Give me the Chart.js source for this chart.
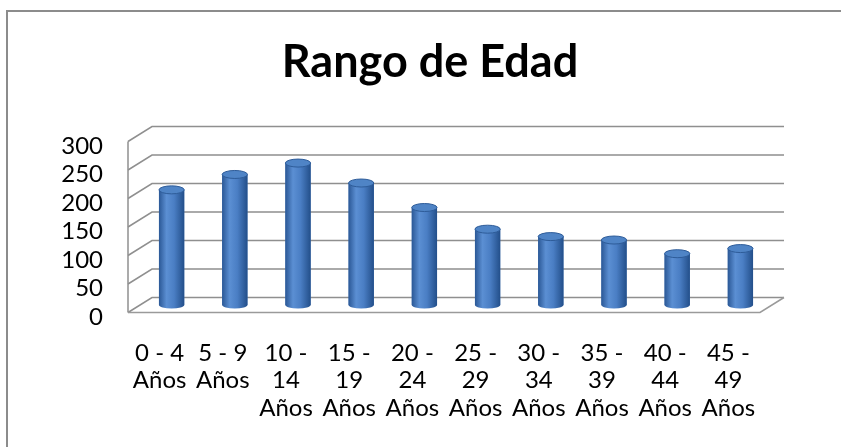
<!DOCTYPE html>
<html>
<head>
<meta charset="utf-8">
<title>Rango de Edad</title>
<script src="https://cdn.jsdelivr.net/npm/chart.js@4"></script>
<style>
  body { margin: 0; background: #fff; }
  canvas { display: block; }
</style>
</head>
<body>
<canvas id="myChart" width="841" height="447"></canvas>
<script>
// datos
var rangos = [
  ['0 - 4', 'Años'],
  ['5 - 9', 'Años'],
  ['10 -', '14', 'Años'],
  ['15 -', '19', 'Años'],
  ['20 -', '24', 'Años'],
  ['25 -', '29', 'Años'],
  ['30 -', '34', 'Años'],
  ['35 -', '39', 'Años'],
  ['40 -', '44', 'Años'],
  ['45 -', '49', 'Años']
];
var personas = [202, 229, 249, 214, 171, 133, 120, 114, 90, 99];
var yTicks = [0, 50, 100, 150, 200, 250, 300];

// desplazamiento de profundidad (efecto 3D)
var dx = 12;
var dy = 7.5;

// marco gris de la figura
var marco = {
  id: 'marco',
  beforeDraw: function(chart) {
    var ctx = chart.ctx;
    ctx.save();
    ctx.fillStyle = '#ffffff';
    ctx.fillRect(0, 0, chart.width, chart.height);
    ctx.strokeStyle = '#8c8c8c';
    ctx.lineWidth = 2;
    ctx.beginPath();
    ctx.moveTo(7, chart.height);
    ctx.lineTo(7, 11);
    ctx.lineTo(chart.width, 11);
    ctx.stroke();
    ctx.restore();
  }
};

// paredes y piso en perspectiva
var paredes = {
  id: 'paredes',
  beforeDatasetsDraw: function(chart) {
    var ctx = chart.ctx;
    var a = chart.chartArea;
    var y = chart.scales.y;
    ctx.save();
    ctx.lineWidth = 1.5;
    ctx.strokeStyle = '#8f8f8f';
    yTicks.forEach(function(v) {
      var py = y.getPixelForValue(v);
      ctx.beginPath();
      ctx.moveTo(a.left - dx, py + dy);
      ctx.lineTo(a.left + dx, py - dy);
      ctx.lineTo(a.right + dx, py - dy);
      ctx.stroke();
    });
    // arista izquierda
    ctx.beginPath();
    ctx.moveTo(a.left - dx, y.getPixelForValue(300) + dy);
    ctx.lineTo(a.left - dx, a.bottom + dy);
    ctx.stroke();
    // piso
    ctx.strokeStyle = '#9a9a9a';
    ctx.beginPath();
    ctx.moveTo(a.left - dx, a.bottom + dy);
    ctx.lineTo(a.right - dx, a.bottom + dy);
    ctx.lineTo(a.right + dx, a.bottom - dy);
    ctx.stroke();
    ctx.restore();
  }
};

// cilindros: sombreado y tapas
var cilindros = {
  id: 'cilindros',
  afterDatasetsDraw: function(chart) {
    var ctx = chart.ctx;
    var meta = chart.getDatasetMeta(0);
    ctx.save();
    meta.data.forEach(function(bar) {
      var w = bar.width;
      var x0 = bar.x - w / 2;
      var g = ctx.createLinearGradient(x0, 0, x0 + w, 0);
      g.addColorStop(0, '#2b5896');
      g.addColorStop(0.3, '#5b8fd3');
      g.addColorStop(0.6, '#4a7ec4');
      g.addColorStop(1, '#234f8a');
      ctx.fillStyle = g;
      ctx.fillRect(x0, bar.y, w, bar.base - bar.y);
      ctx.beginPath();
      ctx.ellipse(bar.x, bar.base, w / 2, 3.5, 0, 0, Math.PI);
      ctx.fill();
      ctx.beginPath();
      ctx.ellipse(bar.x, bar.y, w / 2, 4, 0, 0, Math.PI * 2);
      ctx.fillStyle = '#4f84c6';
      ctx.fill();
      ctx.strokeStyle = '#2e5c99';
      ctx.lineWidth = 1;
      ctx.stroke();
    });
    ctx.restore();
  }
};

window.onload = function() {
  var ctx = document.getElementById('myChart').getContext('2d');
  Chart.defaults.font.family = 'Lato';
  Chart.defaults.color = '#000000';
  new Chart(ctx, {
    type: 'bar',
    data: {
      labels: rangos,
      datasets: [{
        label: 'Rango de Edad',
        data: personas,
        backgroundColor: '#3f72b5',
        borderWidth: 0,
        barPercentage: 0.8,
        categoryPercentage: 0.5
      }]
    },
    options: {
      responsive: false,
      animation: false,
      layout: {
        padding: { left: 19, right: 0, top: 0, bottom: 0 }
      },
      plugins: {
        legend: { display: false },
        tooltip: { enabled: false },
        title: {
          display: true,
          text: 'Rango de Edad',
          font: { size: 45, weight: 'bold' },
          padding: { top: 35, bottom: 45 }
        }
      },
      scales: {
        x: {
          grid: { display: false, drawTicks: false },
          border: { display: false },
          ticks: {
            font: { size: 24, lineHeight: 1.13 },
            padding: 35,
            labelOffset: -12,
            maxRotation: 0,
            autoSkip: false
          },
          afterFit: function(scale) { scale.height = 142; }
        },
        y: {
          min: 0,
          max: 300,
          afterBuildTicks: function(scale) {
            scale.ticks = yTicks.map(function(v) { return { value: v }; });
          },
          grid: { display: false, drawTicks: false },
          border: { display: false },
          ticks: {
            font: { size: 24 },
            padding: 37,
            labelOffset: 12,
            autoSkip: false
          },
          afterFit: function(scale) { scale.width = 121; }
        },
        // margen derecho (hueco vacio a la derecha del piso)
        yDer: {
          position: 'right',
          grid: { display: false, drawTicks: false },
          border: { display: false },
          ticks: { display: false },
          afterFit: function(scale) { scale.width = 69; }
        }
      }
    },
    plugins: [marco, paredes, cilindros]
  });
};
</script>
</body>
</html>
